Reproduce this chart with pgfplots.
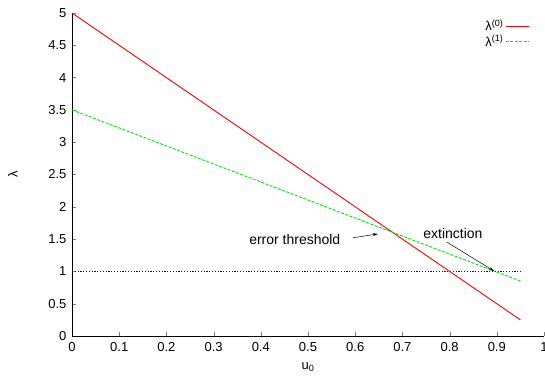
\documentclass[border=0pt]{standalone}
\usepackage{fontspec}
\setmainfont{Liberation Sans}
\usepackage{pgfplots}
\pgfplotsset{compat=1.18}
\usetikzlibrary{arrows.meta}
\definecolor{gpred}{RGB}{255,0,0}
\definecolor{gpgreen}{RGB}{0,230,0}
\definecolor{gpblue}{RGB}{0,0,255}
\begin{document}
\begin{tikzpicture}
\begin{axis}[
  font=\fontsize{13bp}{14bp}\selectfont,
  scale only axis, width=472bp, height=323bp,
  xmin=0, xmax=1, ymin=0, ymax=5,
  axis x line*=bottom, axis y line*=left,
  tick align=inside, major tick length=4bp,
  xtick={0,0.1,...,1}, ytick={0,0.5,...,5},
  /pgf/number format/assume math mode=true,
  xticklabel style={/pgf/number format/fixed, yshift=-3bp},
  yticklabel style={/pgf/number format/fixed, xshift=-2bp},
  xlabel={u\textsubscript{0}}, ylabel={λ},
  xlabel style={at={(axis description cs:0.5,-0.097)}, anchor=center},
  ylabel style={at={(axis description cs:-0.125,0.5)}, anchor=center},
  axis line style={line width=0.8bp},
  legend style={at={(rel axis cs:0.975,0.992)}, anchor=north east, draw=none, fill=none, row sep=-1bp},
  legend cell align=right, legend plot pos=right,
  legend image post style={xscale=1.33},
]
\addplot[color=gpblue, dash pattern=on 1.2bp off 1.6bp, line width=1.3bp, forget plot] coordinates {(0,1.003) (0.95,1.003)};
\addplot[color=gpred, line width=0.9bp] coordinates {(0,5) (0.95,0.25)};
\addlegendentry{λ\textsuperscript{(0)}}
\addplot[color=gpgreen, dash pattern=on 3bp off 1.5bp, line width=0.9bp] coordinates {(0,3.5) (0.95,0.85)};
\addlegendentry{λ\textsuperscript{(1)}}
\node[font=\fontsize{14bp}{15bp}\selectfont] at (axis cs:0.472,1.49) {error threshold};
\draw[-{Stealth[length=5bp,width=3bp]}, line width=0.5bp] (axis cs:0.595,1.52) -- (axis cs:0.648,1.58);
\node[font=\fontsize{14bp}{15bp}\selectfont] at (axis cs:0.807,1.58) {extinction};
\draw[-{Stealth[length=5bp,width=3bp]}, line width=0.5bp] (axis cs:0.794,1.455) -- (axis cs:0.894,1.006);
\end{axis}
\pgfresetboundingbox
\path (current axis.south west) ++(-72bp,-43bp) rectangle ([shift={(1bp,13bp)}]current axis.north east);
\end{tikzpicture}
\end{document}
